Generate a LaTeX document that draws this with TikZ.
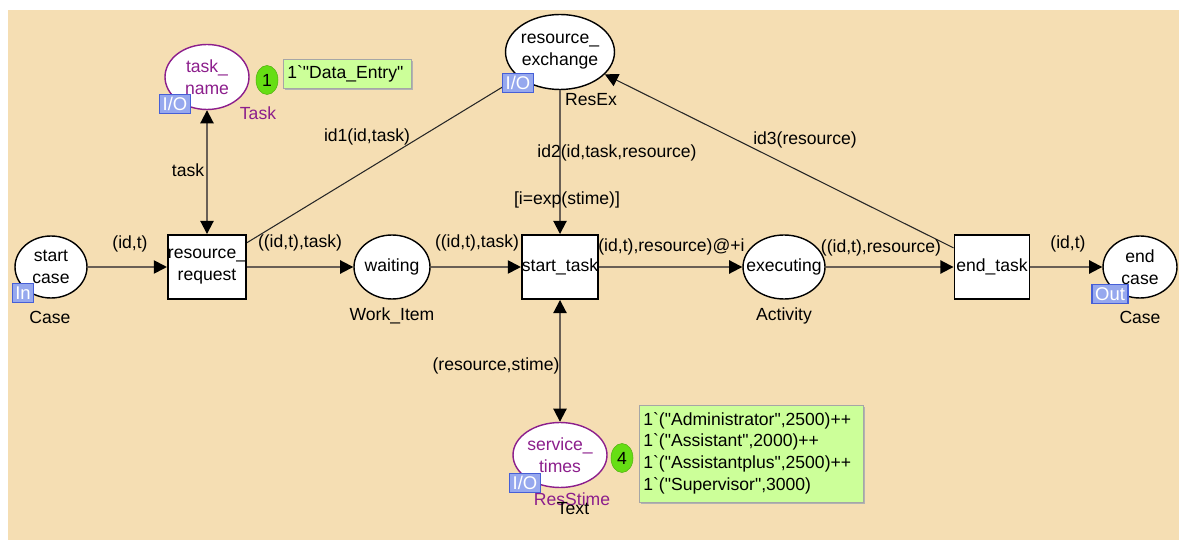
\documentclass[tikz,border=0pt]{standalone}
\usepackage{fontspec}
\setmainfont{Liberation Sans}[Ligatures=TeXOff]
\usetikzlibrary{shapes.geometric,arrows.meta}
\definecolor{bg}{RGB}{245,222,179}
\definecolor{port}{RGB}{140,30,140}
\definecolor{arcgray}{RGB}{105,95,85}
\definecolor{tokgreen}{RGB}{102,222,20}
\definecolor{markgreen}{RGB}{204,255,153}
\definecolor{tagfill}{RGB}{150,168,238}
\definecolor{tagline}{RGB}{70,95,215}
\begin{document}
\begin{tikzpicture}[x=0.02cm,y=-0.02cm,
  every node/.style={font=\fontsize{10}{12.5}\selectfont, inner sep=0pt},
  place/.style={ellipse, draw=black, line width=0.8pt, fill=white},
  portplace/.style={place, draw=port},
  trans/.style={rectangle, draw=black, line width=1.1pt, fill=white,
    minimum width=1.5cm, minimum height=1.28cm, align=center},
  tag/.style={rectangle, draw=tagline, fill=tagfill, text=white, line width=0.7pt,
    inner xsep=1.8pt, inner ysep=0pt, minimum height=0.37cm, font=\fontsize{10.5}{11}\selectfont},
  thickarc/.style={draw=arcgray, line width=1.1pt},
  thinarc/.style={draw=black!85, line width=0.6pt},
  headend/.style={-{Triangle[length=7.5pt,width=7.5pt,color=black]}},
  headboth/.style={{Triangle[length=7.5pt,width=7.5pt,color=black]}-{Triangle[length=7.5pt,width=7.5pt,color=black]}},
  token/.style={ellipse, fill=tokgreen, draw=tokgreen!80!black, line width=0.3pt,
    minimum width=0.44cm, minimum height=0.58cm},
  marking/.style={rectangle, fill=markgreen, draw=gray!70, line width=0.4pt},
  shadowbox/.style={rectangle, fill=black!30},
  inscr/.style={text=black},
  porttext/.style={text=port}
]
% canvas
\useasboundingbox (0,0) rectangle (1179,540);
\fill[bg] (8,10) rectangle (1179,540);

% places
\node[place, minimum width=1.44cm, minimum height=1.24cm,
  label={[align=center]center:start\\case}] (sc) at (51,267) {};
\node[place, minimum width=1.52cm, minimum height=1.28cm,
  label={[align=center]center:waiting}] (wt) at (392,267) {};
\node[place, minimum width=1.64cm, minimum height=1.28cm,
  label={[align=center]center:executing}] (ex) at (784,267) {};
\node[place, minimum width=1.48cm, minimum height=1.24cm,
  label={[align=center]center:end\\case}] (ec) at (1140,267) {};
\node[portplace, minimum width=1.68cm, minimum height=1.3cm,
  label={[align=center,porttext]center:task\_\\name}] (tn) at (207,77) {};
\node[place, minimum width=2.18cm, minimum height=1.5cm,
  label={[align=center]center:resource\_\\exchange}] (rx) at (560,52) {};
\node[portplace, minimum width=1.88cm, minimum height=1.3cm,
  label={[align=center,porttext]center:service\_\\times}] (sv) at (560,455) {};

% transitions
\node[trans] (rr) at (207,267) {resource\_\\request};
\node[trans] (st) at (560,267) {start\_task};
\node[trans] (et) at (992,267) {end\_task};

% arcs
\draw[thickarc, headend] (sc) -- (rr);
\draw[thickarc, headend] (rr) -- (wt);
\draw[thickarc, headend] (wt) -- (st);
\draw[thickarc, headend] (st) -- (ex);
\draw[thickarc, headend] (ex) -- (et);
\draw[thickarc, headend] (et) -- (ec);
\draw[thickarc, headboth] (rr) -- (tn);
\draw[thickarc, headend] (rx) -- (st);
\draw[thickarc, headboth] (st) -- (sv);
\draw[thinarc] (rr) -- (rx);
\draw[thinarc, headend] (et) -- (rx);

% arc inscriptions
\node[inscr] (a1) at (130,244) {(id,t)};
\node[inscr] (a2) at (300,243) {((id,t),task)};
\node[inscr] (a3) at (477,243) {((id,t),task)};
\node[inscr, anchor=west] (a4) at (598,247) {(id,t),resource)@+i};
\node[inscr] (a5) at (881,248) {((id,t),resource)};
\node[inscr] (a6) at (1068,244) {(id,t)};
\node[inscr] (a7) at (188,170) {task};
\node[inscr] (a8) at (367,137) {id1(id,task)};
\node[inscr] (a9) at (617,153) {id2(id,task,resource)};
\node[inscr] (a10) at (805,140) {id3(resource)};
\node[inscr] (a11) at (496,366) {(resource,stime)};
\node[inscr] (g1) at (567,200) {[i=exp(stime)]};

% colour sets
\node[inscr] (c1) at (50,317) {Case};
\node[inscr] (c2) at (392,316) {Work\_Item};
\node[inscr] (c3) at (784,316) {Activity};
\node[inscr] (c4) at (1140,317) {Case};
\node[porttext] (c5) at (258,113) {Task};
\node[inscr] (c6) at (591,100) {ResEx};
\node[porttext] (c7) at (572,499) {ResStime};
\node[inscr] (c8) at (573,509) {Text};

% port tags
\node[tag] (t1) at (23,293) {In};
\node[tag] (t2) at (1110,294) {Out};
\node[tag] (t3) at (175,104) {I/O};
\node[tag] (t4) at (518,83) {I/O};
\node[tag] (t5) at (525,483) {I/O};

% current markings
\node[token] (k1) at (267,80) {1};
\node[shadowbox, minimum width=2.56cm, minimum height=0.58cm] (m1s) at (349,75.5) {};
\node[marking, minimum width=2.56cm, minimum height=0.58cm] (m1) at (347,73.5) {};
\node[anchor=west] (m1t) at (287,73.5) {1\textasciigrave"Data\_Entry"};
\node[token] (k2) at (622,458) {4};
\node[shadowbox, minimum width=4.48cm, minimum height=1.94cm] (m2s) at (753,455.5) {};
\node[marking, minimum width=4.48cm, minimum height=1.94cm] (m2) at (751,453.5) {};
\node[anchor=west, align=left, font=\fontsize{10}{12.3}\selectfont] (m2t) at (643,453) {%
1\textasciigrave("Administrator",2500)++\\
1\textasciigrave("Assistant",2000)++\\
1\textasciigrave("Assistantplus",2500)++\\
1\textasciigrave("Supervisor",3000)};
\end{tikzpicture}
\end{document}
